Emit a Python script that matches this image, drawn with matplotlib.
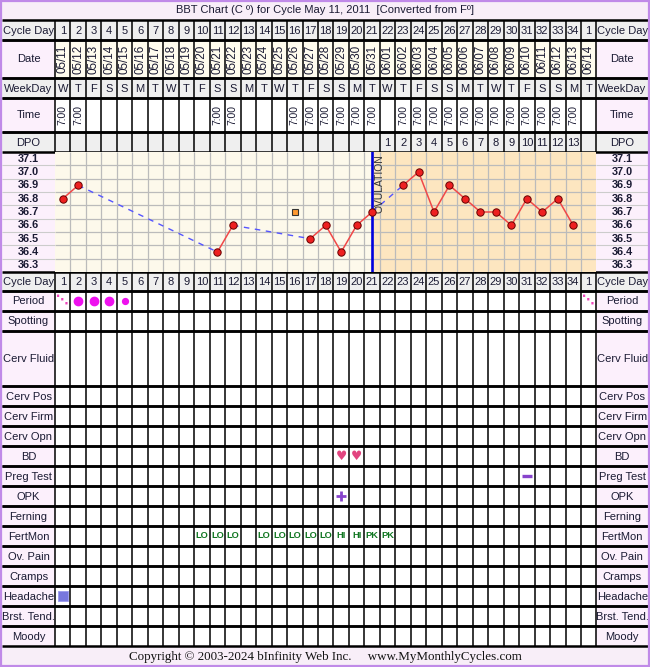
import matplotlib
matplotlib.use('Agg')
import matplotlib.pyplot as plt
from matplotlib.transforms import blended_transform_factory
from matplotlib.patches import Rectangle
import numpy as np

# ---------------- data ----------------
cycle_day_labels = ['1','2','3','4','5','6','7','8','9','10','11','12','13','14','15','16','17',
                    '18','19','20','21','22','23','24','25','26','27','28','29','30','31','32','33','34','1']
dates = ['05/11','05/12','05/13','05/14','05/15','05/16','05/17','05/18','05/19','05/20','05/21',
         '05/22','05/23','05/24','05/25','05/26','05/27','05/28','05/29','05/30','05/31','06/01',
         '06/02','06/03','06/04','06/05','06/06','06/07','06/08','06/09','06/10','06/11','06/12',
         '06/13','06/14']
weekdays = ['W','T','F','S','S','M','T','W','T','F','S','S','M','T','W','T','F','S','S','M','T',
            'W','T','F','S','S','M','T','W','T','F','S','S','M','T']
times = ['7:00','7:00','','','','','','','','','7:00','7:00','','','','7:00','7:00','7:00','7:00',
         '7:00','7:00','','7:00','7:00','7:00','7:00','7:00','7:00','7:00','7:00','7:00','7:00',
         '7:00','7:00','']
dpo = ['','','','','','','','','','','','','','','','','','','','','','1','2','3','4','5','6',
       '7','8','9','10','11','12','13','']
temp_days = [1, 2, 11, 12, 17, 18, 19, 20, 21, 23, 24, 25, 26, 27, 28, 29, 30, 31, 32, 33, 34]
temps = [36.8, 36.9, 36.4, 36.6, 36.5, 36.6, 36.4, 36.6, 36.7, 36.9, 37.0, 36.7, 36.9, 36.8,
         36.7, 36.7, 36.6, 36.8, 36.7, 36.8, 36.6]
discard_days = [16]
discard_temps = [36.7]
temp_labels = [37.1, 37.0, 36.9, 36.8, 36.7, 36.6, 36.5, 36.4, 36.3]
ovulation_day = 21
period_days = [1, 2, 3, 4, 5, 35]
period_flow = ['spot', 'heavy', 'heavy', 'heavy', 'light', 'spot']
bd_days = [19, 20]
preg_days = [31]
opk_days = [19]
fertmon_days = [10, 11, 12, 14, 15, 16, 17, 18, 19, 20, 21, 22]
fertmon_vals = ['LO','LO','LO','LO','LO','LO','LO','LO','HI','HI','PK','PK']
headache_days = [1]
symptom_rows = ['Period','Spotting','Cerv Fluid','Cerv Pos','Cerv Firm','Cerv Opn','BD',
                'Preg Test','OPK','Ferning','FertMon','Ov. Pain','Cramps','Headache',
                'Brst. Tend.','Moody']

# ---------------- layout ----------------
W, H = 650, 667
X0, CW, NCOL = 55.0, 15.47, 35
X1 = X0 + NCOL * CW
XL, XR = 2.0, 648.0
FONT = 'Liberation Sans'
TXT = '#1a1a33'
GREY = '#EFEFEF'
PINK = '#FCF0FC'
CREAM = '#FFFCEE'

fig = plt.figure(figsize=(W / 100, H / 100), dpi=100)
fig.patch.set_facecolor('white')
ax = fig.add_axes([0, 0, 1, 1])
ax.set_xlim(0, W)
ax.set_ylim(H, 0)
ax.axis('off')

ax_t = fig.add_axes([X0 / W, 1 - 272 / H, (X1 - X0) / W, 120 / H], zorder=3)
ax_t.set_xlim(0.5, NCOL + 0.5)
ax_t.set_ylim(36.25, 37.15)
for s in ax_t.spines.values():
    s.set_visible(False)
ax_t.set_xticks([])
ax_t.set_yticks([])

col = blended_transform_factory(ax_t.transData, ax.transData)   # x = day, y = pixel
tmp = blended_transform_factory(ax.transData, ax_t.transData)   # x = pixel, y = temp
cols = np.arange(1, NCOL + 1)

# header rows: (label, top, bottom, label bg, cell bg)
header = [('Cycle Day', 20, 40, GREY, GREY), ('Date', 40, 78, PINK, CREAM),
          ('WeekDay', 78, 98, GREY, GREY), ('Time', 98, 132, PINK, 'white'),
          ('DPO', 132, 152, GREY, GREY)]
bottom_rows = [('Cycle Day', 272, 291, GREY, GREY)]
y = 291
heights = {'Cerv Fluid': 55}
for name in symptom_rows:
    h = heights.get(name, 20)
    bottom_rows.append((name, y, y + h, PINK, 'white'))
    y += h

# title / footer bands
ax.add_patch(Rectangle((XL, 1), XR - XL, 19, facecolor='#F8EEF8', edgecolor='none'))
ax.add_patch(Rectangle((XL, 646), XR - XL, 20, facecolor='#F8EEF8', edgecolor='none'))
ax.text(W / 2, 10, 'BBT Chart (C º) for Cycle May 11, 2011  [Converted from Fº]',
        ha='center', va='center', fontsize=8, family=FONT, color=TXT)
ax.text(W / 2, 657, 'Copyright © 2003-2024 bInfinity Web Inc.     www.MyMonthlyCycles.com',
        ha='center', va='center', fontsize=9.4, family='Liberation Serif', color='#111111')

for (name, t, b, lbg, cbg) in header + bottom_rows:
    ax.add_patch(Rectangle((XL, t), X0 - XL, b - t, facecolor=lbg, edgecolor='none'))
    ax.add_patch(Rectangle((X1, t), XR - X1, b - t, facecolor=lbg, edgecolor='none'))
    ax.add_patch(Rectangle((X0, t), X1 - X0, b - t, facecolor=cbg, edgecolor='none'))
    for xc in ((XL + X0) / 2, (X1 + XR) / 2):
        ax.text(xc, (t + b) / 2 + 0.5, name, ha='center', va='center', fontsize=8,
                family=FONT, color=TXT)
    ax.vlines(np.arange(0.5, NCOL + 1), t, b, colors='black', lw=1.1, transform=col)
    ax.hlines([t, b], XL, XR, colors='black', lw=1.8)

# temperature label columns
ax.add_patch(Rectangle((XL, 152), X0 - XL, 120, facecolor=PINK, edgecolor='none'))
ax.add_patch(Rectangle((X1, 152), XR - X1, 120, facecolor=PINK, edgecolor='none'))
for tv in temp_labels:
    for xc in ((XL + X0) / 2, (X1 + XR) / 2):
        ax.text(xc, tv, f'{tv:.1f}', ha='center', va='center', fontsize=7.8, weight='bold',
                family=FONT, color=TXT, transform=tmp)
ax.hlines(np.arange(36.25, 37.2, 0.1)[1:-1], XL, X0, colors='#CCCCCC', lw=0.8, transform=tmp)
ax.hlines(np.arange(36.25, 37.2, 0.1)[1:-1], X1, XR, colors='#CCCCCC', lw=0.8, transform=tmp)

# header cell texts
for d, lab in zip(cols, cycle_day_labels):
    ax.text(d, 30.5, lab, ha='center', va='center', fontsize=8, family=FONT, color=TXT, transform=col)
    ax.text(d, 282, lab, ha='center', va='center', fontsize=8, family=FONT, color=TXT, transform=col)
for d, lab in zip(cols, dates):
    ax.text(d, 59, lab, ha='center', va='center', rotation=90, fontsize=8.4, family=FONT,
            color=TXT, transform=col)
for d, lab in zip(cols, weekdays):
    ax.text(d, 88.5, lab, ha='center', va='center', fontsize=8, family=FONT, color=TXT, transform=col)
for d, lab in zip(cols, times):
    if lab:
        ax.text(d, 115, lab, ha='center', va='center', rotation=90, fontsize=7.4, family=FONT,
                color=TXT, transform=col)
for d, lab in zip(cols, dpo):
    if lab:
        ax.text(d, 142.5, lab, ha='center', va='center', fontsize=8, family=FONT, color=TXT,
                transform=col)

# ---------------- temperature chart ----------------
ax_t.axvspan(0.5, ovulation_day, color='#FDF9EB', zorder=0, lw=0)
ax_t.axvspan(ovulation_day, NCOL + 0.5, color='#FDE6C0', zorder=0, lw=0)
ax_t.vlines(np.arange(1.5, NCOL + 0.5), 36.25, 37.15, colors='#BBBBBB', lw=0.9, zorder=1)
ax_t.hlines(np.arange(36.35, 37.1, 0.1), 0.5, NCOL + 0.5, colors='#BBBBBB', lw=0.9, zorder=1)
for i in range(len(temp_days) - 1):
    xs = [temp_days[i], temp_days[i + 1]]
    ys = [temps[i], temps[i + 1]]
    if temp_days[i + 1] - temp_days[i] == 1:
        ax_t.plot(xs, ys, color='#F04848', lw=1.1, zorder=3)
    else:
        ax_t.plot(xs, ys, color='#5555FF', lw=1.0, dashes=(4, 4), zorder=3)
ax_t.axvline(ovulation_day, color='#0000DD', lw=1.9, zorder=4)
ax_t.text(ovulation_day + 0.45, 37.13, 'OVULATION', rotation=90, ha='center', va='top',
          fontsize=7.4, family=FONT, color='#333333', zorder=5)
ax_t.plot(temp_days, temps, 'o', ms=5.3, mfc='#EE2020', mec='#660000', mew=0.7, zorder=6)
ax_t.plot(discard_days, discard_temps, 's', ms=5, mfc='#FF9930', mec='#333333', mew=0.8, zorder=6)

# ---------------- symptom marks ----------------
row_center = {name: (t + b) / 2 for (name, t, b, _, _) in bottom_rows}
for d, f in zip(period_days, period_flow):
    yc = row_center['Period']
    if f == 'spot':
        ax.text(d, yc - 1, '⋱', ha='center', va='center', fontsize=9, color='#EE44BB',
                weight='bold', family='DejaVu Sans', transform=col, clip_on=False)
    else:
        ax.plot([d], [yc], 'o', ms=6 if f == 'heavy' else 4.2, mfc='#EE11EE', mec='#EE11EE',
                transform=col, clip_on=False)
for d in bd_days:
    ax.text(d, row_center['BD'] + 0.5, '♥', ha='center', va='center', fontsize=9,
            color='#E24580', family='DejaVu Sans', transform=col)
for d in preg_days:
    ax.plot([d], [row_center['Preg Test']], '_', ms=7, mew=2.4, color='#8844CC', transform=col)
for d in opk_days:
    ax.plot([d], [row_center['OPK']], '+', ms=7, mew=2.0, color='#8844CC', transform=col)
for d, v in zip(fertmon_days, fertmon_vals):
    ax.text(d, row_center['FertMon'], v, ha='center', va='center', fontsize=6.7, weight='bold',
            color='#117722', family=FONT, transform=col)
for d in headache_days:
    ax.plot([d], [row_center['Headache']], 's', ms=7, mfc='#7777DD', mec='#9999EE', mew=0.6,
            transform=col)

# outer purple frame
ax.add_patch(Rectangle((1, 0.5), W - 2, H - 1.5, facecolor='none', edgecolor='#C08AE8', lw=1.6,
                       zorder=10))

fig.savefig('out.png', dpi=100)
